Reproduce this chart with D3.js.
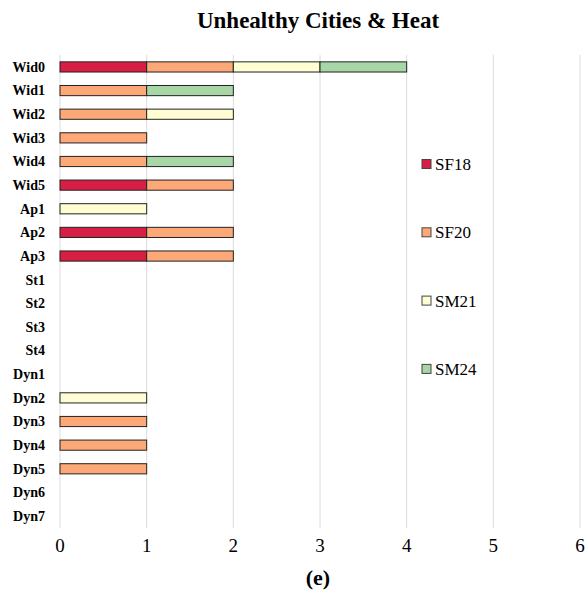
<!DOCTYPE html>
<html lang="en">
<head>
    <meta charset="UTF-8">
    <title>Unhealthy Cities & Heat</title>
    <script src="https://d3js.org/d3.v7.min.js"></script>
    <style>
        body { margin: 0; background: #fff; }
        text { font-family: "Liberation Serif", "Times New Roman", "DejaVu Serif", serif; }
    </style>
</head>
<body>
<svg width="585" height="592" id="canvas"></svg>

<script>
    // rows of the chart, top to bottom
    const cities = ["Wid0", "Wid1", "Wid2", "Wid3", "Wid4", "Wid5", "Ap1", "Ap2", "Ap3",
        "St1", "St2", "St3", "St4", "Dyn1", "Dyn2", "Dyn3", "Dyn4", "Dyn5", "Dyn6", "Dyn7"];

    const seriesNames = ["SF18", "SF20", "SM21", "SM24"];
    const seriesColors = ["#d81e45", "#fca877", "#fefed2", "#a7d6a7"];

    // values per series, same order as cities
    const SF18 = [1, 0, 0, 0, 0, 1, 0, 1, 1, 0, 0, 0, 0, 0, 0, 0, 0, 0, 0, 0];
    const SF20 = [1, 1, 1, 1, 1, 1, 0, 1, 1, 0, 0, 0, 0, 0, 0, 1, 1, 1, 0, 0];
    const SM21 = [1, 0, 1, 0, 0, 0, 1, 0, 0, 0, 0, 0, 0, 0, 1, 0, 0, 0, 0, 0];
    const SM24 = [1, 1, 0, 0, 1, 0, 0, 0, 0, 0, 0, 0, 0, 0, 0, 0, 0, 0, 0, 0];

    const xTicks = [0, 1, 2, 3, 4, 5, 6];

    const svg = d3.select("svg");

    const mLeft = 60, mRight = 580, mTop = 55, mBottom = 528;

    // table for the stack layout
    const table = cities.map((c, i) => ({
        city: c, SF18: SF18[i], SF20: SF20[i], SM21: SM21[i], SM24: SM24[i]
    }));

    const x = d3.scaleLinear().domain([0, 6]).range([mLeft, mRight]);
    const y = d3.scaleBand().domain(cities).range([mTop, mBottom]).paddingInner(0.57).paddingOuter(0.29);
    const color = d3.scaleOrdinal().domain(seriesNames).range(seriesColors);

    // grid lines
    svg.append("g")
        .selectAll("line")
        .data(xTicks)
        .enter()
        .append("line")
        .attr("x1", d => x(d))
        .attr("x2", d => x(d))
        .attr("y1", mTop)
        .attr("y2", mBottom)
        .attr("stroke", "#dcdcdc")
        .attr("stroke-width", 1);

    // stacked bars
    const stacked = d3.stack().keys(seriesNames)(table);

    svg.append("g")
        .selectAll("g")
        .data(stacked)
        .enter()
        .append("g")
        .attr("fill", d => color(d.key))
        .selectAll("rect")
        .data(d => d.filter(s => s[1] - s[0] > 0))
        .enter()
        .append("rect")
        .attr("x", d => x(d[0]))
        .attr("y", d => y(d.data.city))
        .attr("width", d => x(d[1]) - x(d[0]))
        .attr("height", y.bandwidth())
        .attr("stroke", "#222")
        .attr("stroke-width", 1);

    // category labels
    svg.append("g")
        .selectAll("text")
        .data(cities)
        .enter()
        .append("text")
        .attr("x", 45)
        .attr("y", d => y(d) + y.bandwidth() / 2)
        .attr("dy", "0.35em")
        .attr("text-anchor", "end")
        .attr("font-weight", "bold")
        .attr("font-size", 14)
        .text(d => d);

    // x tick labels
    svg.append("g")
        .selectAll("text")
        .data(xTicks)
        .enter()
        .append("text")
        .attr("x", d => x(d))
        .attr("y", 552)
        .attr("text-anchor", "middle")
        .attr("font-size", 19)
        .text(d => d);

    // title
    svg.append("text")
        .attr("x", 318)
        .attr("y", 28)
        .attr("text-anchor", "middle")
        .attr("font-weight", "bold")
        .attr("font-size", 23)
        .text("Unhealthy Cities & Heat");

    svg.append("text")
        .attr("x", 318)
        .attr("y", 585)
        .attr("text-anchor", "middle")
        .attr("font-weight", "bold")
        .attr("font-size", 22)
        .text("(e)");

    // legend
    const legend = svg.append("g")
        .selectAll("g")
        .data(seriesNames)
        .enter()
        .append("g")
        .attr("transform", (d, i) => `translate(422, ${164 + i * 68.3})`);

    legend.append("rect")
        .attr("x", 0)
        .attr("y", -4.5)
        .attr("width", 9)
        .attr("height", 9)
        .attr("fill", d => color(d))
        .attr("stroke", "#444")
        .attr("stroke-width", 1);

    legend.append("text")
        .attr("x", 13)
        .attr("y", 0)
        .attr("dy", "0.35em")
        .attr("font-size", 17)
        .text(d => d);
</script>
</body>
</html>
